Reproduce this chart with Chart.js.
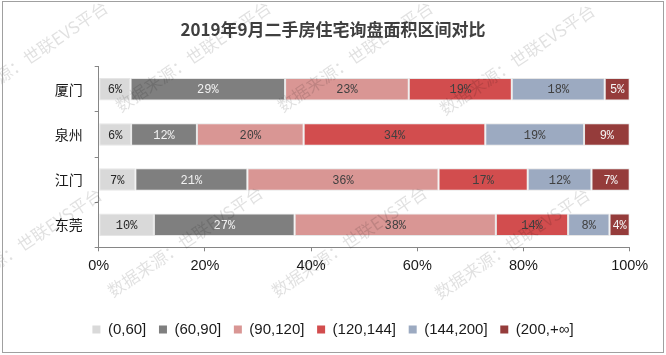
<!DOCTYPE html>
<html>
<head>
<meta charset="utf-8">
<script src="https://cdn.jsdelivr.net/npm/chart.js@4/dist/chart.umd.min.js"></script>
<style>
html,body{margin:0;padding:0;background:#fff;}
#wrap{position:relative;width:666px;height:355px;}
</style>
</head>
<body>
<div id="wrap"><canvas id="c" width="666" height="355"></canvas></div>
<script>
const categories = ['厦门', '泉州', '江门', '东莞'];
const seriesNames = ['(0,60]', '(60,90]', '(90,120]', '(120,144]', '(144,200]', '(200,+∞]'];
const s0to60    = [6.0, 6.1, 6.9, 10.4];
const s60to90   = [29.1, 12.4, 21.1, 26.5];
const s90to120  = [23.3, 20.1, 36.0, 37.9];
const s120to144 = [19.4, 34.2, 16.8, 13.6];
const s144to200 = [17.5, 18.6, 12.0, 7.8];
const s200plus  = [4.7, 8.6, 7.2, 3.8];
const xTicks = [0, 20, 40, 60, 80, 100];

const seriesValues = [s0to60, s60to90, s90to120, s120to144, s144to200, s200plus];
const colors = ['#d9d9d9', '#7f7f7f', '#d99694', '#d24d4e', '#9caac1', '#953c3b'];
const labelColors = ['#262626', '#f2f2f2', '#404040', '#404040', '#404040', '#f5f5f5'];

const datasets = seriesNames.map((name, i) => ({
  label: name,
  data: seriesValues[i],
  backgroundColor: colors[i],
  borderColor: '#e6e6e6',
  borderWidth: 1,
  borderSkipped: false,
  barPercentage: 0.5,
  categoryPercentage: 1.0
}));

const valueLabels = {
  id: 'valueLabels',
  afterDatasetsDraw(chart) {
    const ctx = chart.ctx;
    ctx.save();
    ctx.font = '12px "Liberation Mono", monospace';
    ctx.textAlign = 'center';
    ctx.textBaseline = 'middle';
    chart.data.datasets.forEach((ds, di) => {
      const meta = chart.getDatasetMeta(di);
      meta.data.forEach((el, i) => {
        const p = el.getProps(['x', 'y', 'base'], true);
        ctx.fillStyle = labelColors[di];
        ctx.fillText(Math.round(ds.data[i]) + '%', (p.x + p.base) / 2, p.y + 1);
      });
    });
    ctx.restore();
  }
};

const decor = {
  id: 'decor',
  afterDraw(chart) {
    const ctx = chart.ctx;
    ctx.save();
    ctx.font = '17px "Noto Sans CJK SC"';
    ctx.fillStyle = 'rgba(0,0,0,0.12)';
    ctx.textBaseline = 'alphabetic';
    const spots = [[-42,113],[121,113],[283,113],[445,116],[-48,300],[113,298],[277,298],[440,300]];
    spots.forEach(([x, y]) => {
      ctx.save();
      ctx.translate(x, y);
      ctx.rotate(-34 * Math.PI / 180);
      ctx.fillText('数据来源：世联EVS平台', 0, 0);
      ctx.restore();
    });
    ctx.strokeStyle = '#a0a0a0';
    ctx.lineWidth = 1;
    ctx.strokeRect(2.5, 1.5, 661, 351);
    ctx.restore();
  }
};

new Chart(document.getElementById('c'), {
  type: 'bar',
  data: { labels: categories, datasets },
  options: {
    indexAxis: 'y',
    responsive: false,
    animation: false,
    devicePixelRatio: 1,
    layout: { padding: { left: 0, right: 0, top: 0, bottom: 8 } },
    scales: {
      x: {
        stacked: true,
        min: 0,
        max: 100,
        afterBuildTicks(scale) { scale.ticks = xTicks.map(v => ({ value: v })); },
        afterFit(scale) { scale.height = 62; },
        grid: { display: true, drawOnChartArea: false, drawTicks: true, tickLength: 4, color: '#868686' },
        border: { display: true, color: '#868686' },
        ticks: {
          padding: 6,
          color: '#1a1a1a',
          font: { family: '"Liberation Sans", Arial, sans-serif', size: 14.5 },
          callback: v => v + '%'
        }
      },
      y: {
        stacked: true,
        afterFit(scale) { scale.width = 98.7; },
        grid: { display: true, drawOnChartArea: false, drawTicks: true, tickLength: 4, color: '#868686', offset: true },
        border: { display: true, color: '#868686' },
        ticks: {
          padding: 12,
          color: '#1a1a1a',
          font: { family: '"Noto Sans CJK SC", sans-serif', size: 14 }
        }
      },
      yRightSpace: {
        type: 'category',
        position: 'right',
        display: true,
        afterFit(scale) { scale.width = 36.3; },
        grid: { display: false, drawTicks: false },
        border: { display: false },
        ticks: { display: false }
      }
    },
    plugins: {
      title: {
        display: true,
        text: '2019年9月二手房住宅询盘面积区间对比',
        color: '#404040',
        font: { family: '"Noto Sans CJK SC", sans-serif', size: 17, weight: 'bold' },
        padding: { top: 19.3, bottom: 27 }
      },
      legend: {
        display: true,
        position: 'bottom',
        labels: {
          boxWidth: 8,
          boxHeight: 8,
          padding: 12.7,
          color: '#1a1a1a',
          font: { family: '"Liberation Sans", Arial, sans-serif', size: 15 },
          generateLabels(chart) {
            return Chart.defaults.plugins.legend.labels.generateLabels(chart).map(l => Object.assign(l, { lineWidth: 0, strokeStyle: 'rgba(0,0,0,0)' }));
          }
        }
      },
      tooltip: { enabled: false }
    }
  },
  plugins: [valueLabels, decor]
});
</script>
</body>
</html>
